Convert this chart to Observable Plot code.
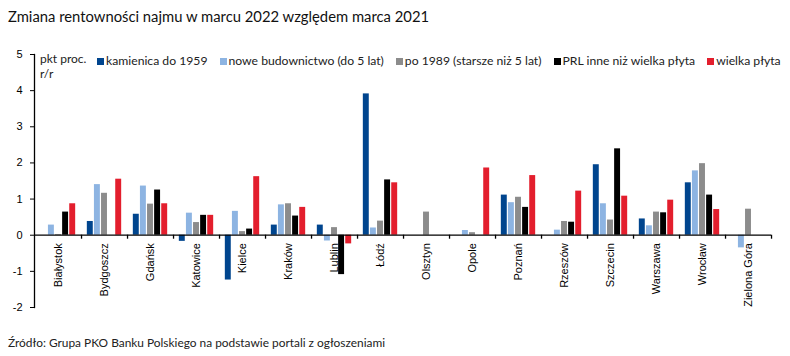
<!DOCTYPE html>
<html><head><meta charset="utf-8">
<script src="https://cdn.jsdelivr.net/npm/d3@7"></script>
<script src="https://cdn.jsdelivr.net/npm/@observablehq/plot@0.6"></script>
<style>
body{margin:0;background:#fff;width:790px;height:356px;overflow:hidden;font-family:Lato,"Open Sans",sans-serif;position:relative;}
#title{position:absolute;left:8px;top:7px;font-size:14.8px;color:#111;white-space:nowrap;}
#wrap{position:absolute;left:0;top:44px;width:790px;}
#unit{position:absolute;left:40px;top:7px;font-size:12px;line-height:15px;color:#222;}
#legend{position:absolute;left:97px;top:10px;font-size:12.2px;line-height:14px;color:#222;display:flex;gap:12px;white-space:nowrap;}
#legend span.sw{display:inline-block;width:7px;height:7px;margin-right:2px;vertical-align:0px;}
#source{position:absolute;left:8px;top:335px;font-size:11.9px;color:#222;white-space:nowrap;}
</style></head>
<body>
<div id="title">Zmiana rentowności najmu w marcu 2022 względem marca 2021</div>
<div id="wrap"><div id="chart"></div><div id="unit">pkt proc.<br>r/r</div><div id="legend"></div></div>
<div id="source">Źródło: Grupa PKO Banku Polskiego na podstawie portali z ogłoszeniami</div>
<script>
const cities = ["Białystok","Bydgoszcz","Gdańsk","Katowice","Kielce","Kraków","Lublin","Łódź","Olsztyn","Opole","Poznań","Rzeszów","Szczecin","Warszawa","Wrocław","Zielona Góra"];
const series = ["kamienica do 1959","nowe budownictwo (do 5 lat)","po 1989 (starsze niż 5 lat)","PRL inne niż wielka płyta","wielka płyta"];
const colors = ["#00458e","#8db4e2","#8c8c8c","#000000","#e31e2d"];
const kamienica = [null,0.38,0.58,-0.17,-1.24,0.28,0.28,3.91,null,null,1.11,null,1.95,0.45,1.45,null];
const noweBud   = [0.28,1.40,1.36,0.61,0.66,0.84,-0.16,0.20,null,0.13,0.90,0.14,0.87,0.26,1.78,-0.35];
const po1989    = [0.02,1.16,0.86,0.35,0.10,0.87,0.21,0.39,0.64,0.07,1.05,0.38,0.42,0.64,1.98,0.72];
const prl       = [0.64,null,1.25,0.55,0.17,0.53,-1.09,1.53,null,null,0.77,0.36,2.39,0.62,1.11,null];
const wielka    = [0.87,1.55,0.87,0.55,1.62,0.77,-0.24,1.45,null,1.86,1.65,1.22,1.08,0.97,0.71,null];
const yTicks = [-2,-1,0,1,2,3,4,5];

const valuesBySeries = [kamienica, noweBud, po1989, prl, wielka];
const rows = [];
series.forEach((s, si) => cities.forEach((c, ci) => {
  const v = valuesBySeries[si][ci];
  if (v != null) rows.push({city: c, series: s, si, value: v});
}));

const step = 7.1, half = 3;
const chart = Plot.plot({
  width: 790, height: 282,
  marginLeft: 34, marginRight: 19, marginTop: 10, marginBottom: 19,
  style: {fontFamily: "'Liberation Sans', Arial, sans-serif", fontSize: "11px", color: "#000", background: "transparent"},
  x: {domain: cities, padding: 0, axis: null},
  y: {domain: [-2, 5], axis: null},
  color: {domain: series, range: colors},
  marks: [
    ...series.map((s, si) => Plot.barY(rows.filter(d => d.si === si), {
      x: "city", y: "value", fill: "series",
      dx: (si - 2) * step, insetLeft: 46.06 / 2 - half, insetRight: 46.06 / 2 - half
    })),
    Plot.ruleY([0], {stroke: "#000", strokeWidth: 1.3}),
    Plot.ruleX(cities, {x: d => d, y1: 0, y2: 0, insetBottom: -4, dx: 23.03, stroke: "#000", strokeWidth: 1.3}),
    Plot.frame({anchor: "left", stroke: "#000", strokeWidth: 1.3}),
    Plot.axisY({ticks: yTicks, label: null, tickSize: 4, tickPadding: 8, tickFormat: d => String(d).replace("−", "-"), fontSize: 11, stroke: "#000"}),
    Plot.text(cities, {x: d => d, y: 0, text: d => d, rotate: -90, textAnchor: "end", dy: 8, fontSize: 11, fill: "#000"})
  ]
});
document.getElementById("chart").appendChild(chart);

const legend = document.getElementById("legend");
series.forEach((s, i) => {
  const item = document.createElement("div");
  item.innerHTML = `<span class="sw" style="background:${colors[i]}"></span>${s}`;
  legend.appendChild(item);
});
</script>
</body></html>
